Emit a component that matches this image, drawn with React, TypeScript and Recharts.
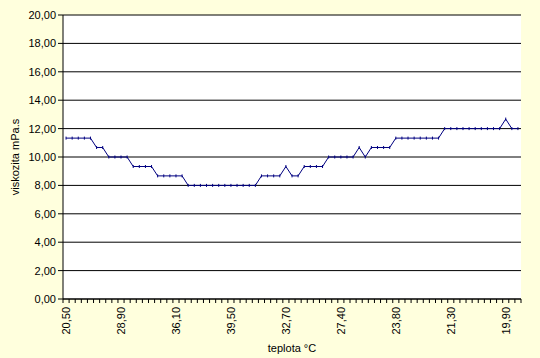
import React from 'react';
import { LineChart, Line, XAxis, YAxis, CartesianGrid, Label } from 'recharts';

// tick labels shown on the category axis (every 9th measurement)
const temperatureLabels = ['20,50', '28,90', '36,10', '39,50', '32,70', '27,40', '23,80', '21,30', '19,90'];
const labelEvery = 9;

// viscosity readings (mPa.s), one per measurement
const viscosity = [
  11.33, 11.33, 11.33, 11.33, 11.33,
  10.67, 10.67,
  10.0, 10.0, 10.0, 10.0,
  9.33, 9.33, 9.33, 9.33,
  8.67, 8.67, 8.67, 8.67, 8.67,
  8.0, 8.0, 8.0, 8.0, 8.0, 8.0, 8.0, 8.0, 8.0, 8.0, 8.0, 8.0,
  8.67, 8.67, 8.67, 8.67,
  9.33,
  8.67, 8.67,
  9.33, 9.33, 9.33, 9.33,
  10.0, 10.0, 10.0, 10.0, 10.0,
  10.67,
  10.0,
  10.67, 10.67, 10.67, 10.67,
  11.33, 11.33, 11.33, 11.33, 11.33, 11.33, 11.33, 11.33,
  12.0, 12.0, 12.0, 12.0, 12.0, 12.0, 12.0, 12.0, 12.0, 12.0,
  12.67,
  12.0, 12.0,
];

const yTicks = [0, 2, 4, 6, 8, 10, 12, 14, 16, 18, 20];

const data = viscosity.map((v, i) => ({ idx: i, v }));

const W = 540;
const H = 358;
const MARGIN = { top: 15, right: 19, left: 0, bottom: 0 };
const Y_AXIS_W = 63;
const PLOT_W = W - MARGIN.right - MARGIN.left - Y_AXIS_W;
const BAND = PLOT_W / viscosity.length;
const X_TICK_SIZE = 4;
const X_TICK_MARGIN = 4;
const FONT = '"Liberation Sans", Arial, sans-serif';

const fmt = (n: number) => n.toFixed(2).replace('.', ',');

const XTick = (props: any) => {
  const { x, y, payload } = props;
  const i = Number(payload.value);
  const text = i % labelEvery === 0 ? temperatureLabels[i / labelEvery] ?? '' : '';
  const y0 = y - X_TICK_MARGIN - X_TICK_SIZE;
  const y1 = y - X_TICK_MARGIN;
  const isLast = i === viscosity.length - 1;
  return (
    <g>
      <line x1={x - BAND / 2} x2={x - BAND / 2} y1={y0} y2={y1} stroke="#000" />
      {isLast && <line x1={x + BAND / 2} x2={x + BAND / 2} y1={y0} y2={y1} stroke="#000" />}
      {text && (
        <g transform={`translate(${x},${y})`}>
          <text
            transform="rotate(-90)"
            textAnchor="end"
            dy="0.35em"
            fontSize={11}
            fontFamily={FONT}
            fill="#000"
          >
            {text}
          </text>
        </g>
      )}
    </g>
  );
};

const Dot = (props: any) => {
  const { cx, cy } = props;
  if (cx == null || cy == null) return null;
  return <line x1={cx} x2={cx} y1={cy - 1.5} y2={cy + 1.5} stroke="#000080" strokeWidth={1} />;
};

const YLabel = (props: any) => {
  const vb = props.viewBox || {};
  const x = (vb.x ?? 0) + 15;
  const y = (vb.y ?? 0) + (vb.height ?? 0) / 2;
  return (
    <text
      x={x}
      y={y}
      transform={`rotate(-90,${x},${y})`}
      textAnchor="middle"
      dominantBaseline="central"
      fontSize={11}
      fontFamily={FONT}
      fill="#000"
    >
      viskozita mPa.s
    </text>
  );
};

export default function App() {
  return (
    <div style={{ position: 'absolute', left: 0, top: 0, width: W, height: H, background: '#FFFFDD' }}>
      <LineChart width={W} height={H} data={data} margin={MARGIN}>
        <CartesianGrid horizontal vertical={false} stroke="#000" fill="#fff" fillOpacity={1} />
        <XAxis
          dataKey="idx"
          type="category"
          scale="band"
          interval={0}
          height={H - MARGIN.top - 284}
          tickLine={false}
          tickSize={X_TICK_SIZE}
          tickMargin={X_TICK_MARGIN}
          axisLine={{ stroke: '#000' }}
          tick={<XTick />}
        >
          <Label
            value="teplota °C"
            position="insideBottom"
            offset={6}
            style={{ fontSize: 11, fontFamily: FONT, fill: '#000' }}
          />
        </XAxis>
        <YAxis
          domain={[0, 20]}
          ticks={yTicks}
          width={Y_AXIS_W}
          tickSize={5}
          tickMargin={2}
          tickFormatter={fmt}
          axisLine={{ stroke: '#000' }}
          tickLine={{ stroke: '#000' }}
          tick={{ fontSize: 11, fontFamily: FONT, fill: '#000' }}
          interval={0}
        >
          <Label content={<YLabel />} />
        </YAxis>
        <YAxis
          yAxisId="r"
          orientation="right"
          domain={[0, 20]}
          width={0}
          tick={false}
          tickLine={false}
          axisLine={{ stroke: '#808080' }}
        />
        <Line
          type="linear"
          dataKey="v"
          stroke="#000080"
          strokeWidth={1}
          dot={<Dot />}
          activeDot={false}
          isAnimationActive={false}
        />
      </LineChart>
    </div>
  );
}
